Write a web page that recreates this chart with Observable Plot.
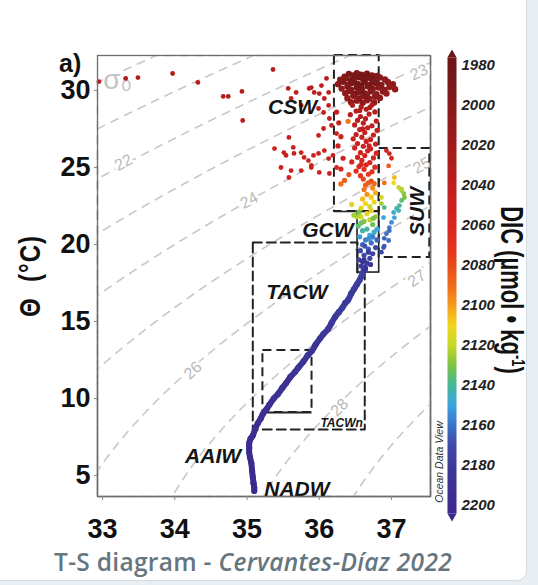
<!DOCTYPE html>
<html>
<head>
<meta charset="utf-8">
<script src="https://cdn.jsdelivr.net/npm/d3@7"></script>
<script src="https://cdn.jsdelivr.net/npm/@observablehq/plot@0.6"></script>
<style>
html,body{margin:0;padding:0;background:#e9eef2;}
#page{position:relative;width:538px;height:585px;overflow:hidden;background:#e9eef2;font-family:"Liberation Sans",Arial,sans-serif;}
#card{position:absolute;left:-12px;top:-12px;width:539px;height:593px;background:#fff;border:1.5px solid #d3dbe1;border-radius:10px;box-sizing:border-box;}
#main{position:absolute;left:0;top:0;}
#cbar{position:absolute;left:440px;top:0;}
.lbl{position:absolute;white-space:pre;color:#111;line-height:1;}
#ylab{left:30px;top:276px;font-size:24px;font-weight:bold;transform:translate(-50%,-50%) rotate(-90deg) scaleY(1.25);letter-spacing:1px;}
#panel{left:59px;top:51px;font-size:25px;font-weight:bold;}
#diclab{left:511px;top:290px;font-size:22px;font-weight:bold;transform:translate(-50%,-50%) rotate(90deg) scaleY(1.4);}
#diclab sup{font-size:13px;vertical-align:8px;line-height:0;}
#odv{left:439px;top:462px;font-size:10.5px;font-style:italic;color:#333;transform:translate(-50%,-50%) rotate(-90deg);}
#caption{left:0;width:506px;top:550px;text-align:center;font-family:"Open Sans",sans-serif;font-size:24.5px;font-weight:600;color:#65767f;letter-spacing:0.3px;}
</style>
</head>
<body>
<div id="page">
  <div id="card"></div>
  <div id="main"></div>
  <div id="cbar"></div>
  <div class="lbl" id="panel">a)</div>
  <div class="lbl" id="ylab">Θ  (°C)</div>
  <div class="lbl" id="diclab">DIC (µmol • kg<sup>-1</sup>)</div>
  <div class="lbl" id="odv">Ocean Data View</div>
  <div class="lbl" id="caption">T-S diagram - <i>Cervantes-Díaz 2022</i></div>
</div>
<script>
// ---------- axes / ticks ----------
const salDomain = [32.93, 37.54];
const tempDomain = [3.64, 32.27];
const salTicks = [33, 34, 35, 36, 37];
const tempTicks = [5, 10, 15, 20, 25, 30];
const dicTicks = [1980, 2000, 2020, 2040, 2060, 2080, 2100, 2120, 2140, 2160, 2180, 2200];

// ---------- colour map (ODV-like) ----------
const dicStops  = [1980, 2000, 2020, 2040, 2060, 2075, 2090, 2100, 2110, 2120, 2130, 2140, 2150, 2160, 2170, 2185, 2200];
const dicColors = ["#6e1616", "#861a1a", "#a11c1c", "#bc1f1e", "#d9241f", "#e43c1c", "#ef6c1a", "#f49d1c", "#f2d71c", "#c6d72b", "#7bc243", "#47b79a", "#3aa5df", "#3c72c6", "#3d49a6", "#3c3496", "#3b2a8c"];

// ---------- isopycnals (sigma-theta) ----------
const isopycnals = [20, 21, 22, 23, 24, 25, 26, 27, 28, 29];
const isoLabelText = ["σ₀", "22", "23", "24", "25", "26", "27", "28"];
const isoLabelS    = [33.21, 33.29, 37.38, 35.03, 37.42, 34.25, 37.35, 36.28];
const isoLabelT    = [30.65, 25.32, 31.17, 22.86, 25.13, 11.82, 17.79, 9.42];

// ---------- water-mass boxes [S1, S2, T1, T2] ----------
const cswBox   = [36.21, 36.83, 22.14, 32.27];
const gcwBox   = [36.53, 36.83, 18.18, 22.14];
const suwBox   = [36.83, 37.53, 19.16, 26.23];
const tacwBox  = [35.08, 36.63, 7.99, 20.13];
const innerBox = [35.22, 35.90, 9.09, 13.12];

// ---------- water-mass labels ----------
const massNames = ["CSW", "GCW", "TACW", "AAIW", "NADW"];
const massS     = [35.63, 36.12, 35.69, 34.53, 35.69];
const massT     = [28.9, 20.9, 16.88, 6.24, 4.09];

// ---------- observations [salinity, theta, DIC] ----------
const deepCurve = [
 [35.10,4.0,2198],[35.10,4.2,2198],[35.09,4.5,2197],[35.08,4.9,2197],[35.07,5.3,2196],[35.06,5.8,2196],
 [35.04,6.2,2195],[35.03,6.5,2195],[35.03,6.8,2194],[35.03,7.1,2194],[35.05,7.4,2193],[35.08,7.6,2193],
 [35.11,8.0,2192],[35.15,8.4,2192],[35.19,8.7,2191],[35.22,9.0,2191],[35.27,9.3,2190],[35.31,9.6,2190],
 [35.37,10.0,2189],[35.43,10.3,2189],[35.49,10.7,2188],[35.54,11.0,2188],[35.60,11.4,2187],[35.66,11.7,2187],
 [35.71,12.0,2186],[35.78,12.4,2186],[35.84,12.8,2185],[35.90,13.1,2185],[35.95,13.5,2184],[36.01,13.9,2184],
 [36.06,14.2,2183],[36.12,14.5,2183],[36.17,14.9,2182],[36.22,15.3,2182],[36.27,15.6,2181],[36.32,15.9,2181],
 [36.36,16.2,2180],[36.40,16.4,2180],[36.44,16.8,2179],[36.48,17.1,2179],[36.52,17.4,2178],[36.56,17.7,2178],
 [36.59,18.0,2177],[36.63,18.5,2176]
];
const gcwColumn = [
 [36.58,18.6,2178],[36.66,18.8,2180],[36.55,19.0,2175],[36.70,19.1,2176],[36.62,19.3,2172],[36.74,19.4,2174],
 [36.57,19.6,2170],[36.68,19.7,2166],[36.78,19.8,2170],[36.60,20.0,2163],[36.72,20.1,2160],[36.64,20.3,2157],
 [36.80,20.3,2164],[36.56,20.5,2152],[36.70,20.6,2150],[36.76,20.8,2146],[36.60,20.9,2143],[36.66,21.0,2140],
 [36.54,21.2,2136],[36.74,21.3,2132],[36.62,21.5,2128],[36.70,21.6,2122],[36.58,21.8,2118],[36.78,21.8,2126],
 [36.66,22.0,2114],[36.55,22.1,2130],[36.72,22.2,2108],[36.62,19.0,2185],[36.68,19.5,2180],[36.60,18.9,2190],
 [36.74,20.5,2158],[36.80,21.0,2150],[36.52,21.8,2122],[36.45,22.6,2115],[36.48,21.9,2125],
 [36.63,19.9,2168],[36.69,20.4,2155],[36.58,21.4,2132],[36.75,21.7,2130],[36.64,18.4,2186],[36.71,18.7,2183]
];
const cswColumn = [
 [36.46,29.04,2028],[36.58,28.93,2026],[36.73,29.07,2030],[36.51,28.66,2032],[36.65,28.78,2030],[36.77,28.61,2034],
 [36.43,28.43,2036],[36.57,28.31,2035],[36.69,28.47,2036],[36.53,28.06,2038],[36.64,28.17,2037],[36.79,28.01,2040],
 [36.49,27.76,2040],[36.61,27.88,2040],[36.73,27.71,2042],[36.56,27.46,2043],[36.67,27.58,2042],[36.80,27.41,2045],
 [36.51,27.14,2045],[36.63,27.27,2044],[36.75,27.11,2047],[36.47,26.86,2048],[36.59,26.97,2047],[36.71,26.81,2048],
 [36.53,26.55,2050],[36.65,26.69,2049],[36.78,26.52,2051],[36.49,26.27,2052],[36.61,26.38,2052],[36.71,26.21,2053],
 [36.57,25.96,2054],[36.67,26.08,2054],[36.79,25.93,2056],[36.53,25.66,2056],[36.63,25.77,2056],[36.75,25.62,2058],
 [36.45,25.36,2058],[36.59,25.47,2058],[36.70,25.32,2060],[36.55,25.06,2062],[36.65,25.17,2061],[36.77,25.02,2064],
 [36.51,24.77,2066],[36.62,24.88,2066],[36.73,24.72,2068],[36.41,24.54,2082],[36.57,24.47,2072],[36.68,24.56,2074],
 [36.35,24.16,2086],[36.61,24.25,2078],[36.72,24.12,2082],[36.30,23.93,2090],[36.64,23.86,2086],[36.76,23.95,2088],
 [36.62,23.57,2092],[36.74,23.66,2095],[36.66,23.26,2098],[36.78,23.36,2102],[36.60,22.96,2105],[36.72,23.07,2108],
 [36.64,22.66,2110],[36.76,22.76,2112],[36.58,22.36,2115],[36.70,22.46,2118],
 [36.24,28.6,2046],[36.27,27.9,2046],[36.30,27.0,2048],[36.26,26.4,2050],[36.33,25.6,2052],[36.30,24.9,2056],[36.40,28.0,2092],
 [36.70,28.9,2030],[36.60,27.5,2042],[36.69,26.4,2052],[36.58,25.2,2060],[36.68,24.0,2084],[36.56,28.7,2031]
];
const cswCore = [
 [36.41,31.08,1993],[36.47,30.98,1990],[36.52,31.12,1991],[36.58,31.03,1988],[36.66,31.09,1990],[36.73,30.97,1994],[36.35,30.90,1996],
 [36.29,30.70,2000],[36.37,30.79,1995],[36.44,30.66,1991],[36.55,30.86,1987],[36.61,30.69,1988],[36.69,30.83,1989],[36.77,30.66,1994],[36.84,30.84,1999],[36.91,30.71,2003],
 [36.26,30.41,2003],[36.33,30.56,1997],[36.40,30.38,1992],[36.48,30.60,1988],[36.53,30.43,1986],[36.63,30.57,1987],[36.70,30.37,1990],[36.78,30.49,1994],[36.86,30.35,2000],[36.95,30.55,2005],[37.02,30.40,2008],
 [36.31,30.12,2005],[36.39,30.28,1999],[36.44,30.05,1995],[36.52,30.20,1990],[36.59,30.08,1989],[36.67,30.27,1990],[36.74,30.10,1994],[36.82,30.19,1998],[36.90,30.04,2004],[36.97,30.22,2007],[37.05,30.08,2011],
 [36.36,29.82,2007],[36.41,29.96,2001],[36.49,29.77,1997],[36.57,29.95,1993],[36.63,29.80,1995],[36.71,29.94,1996],[36.79,29.76,2001],[36.88,29.93,2005],[36.93,29.80,2009],
 [36.39,29.50,2009],[36.47,29.66,2004],[36.55,29.48,2001],[36.61,29.64,1998],[36.69,29.46,2002],[36.77,29.60,2005],[36.84,29.51,2010],
 [36.44,29.24,2011],[36.52,29.34,2008],[36.60,29.20,2007],[36.66,29.36,2008],[36.76,29.22,2012],
 [36.49,30.92,1989],[36.62,30.95,1989],[36.80,30.95,1996],[36.58,30.32,1987],[36.45,30.48,1990],[36.74,30.62,1991],[36.66,29.64,1997],[36.54,29.90,1995]
];
const cswScatter = [
 [32.95,30.58,2030],[33.32,30.78,2030],[33.49,30.84,2030],[33.97,31.10,2032],[34.32,30.52,2035],[34.67,29.61,2035],
 [34.74,29.61,2035],[34.93,29.94,2036],[34.94,28.05,2038],[35.36,31.36,2036],
 [35.57,30.13,2040],[35.68,29.87,2040],[35.61,29.48,2042],[35.75,29.03,2042],[35.86,30.13,2040],[35.93,29.87,2040],
 [36.03,30.32,2038],[36.10,30.78,2036],[36.13,29.87,2038],[36.07,29.48,2040],[35.99,28.83,2042],[36.13,29.03,2042],
 [36.14,28.18,2044],[35.89,30.19,2040],[36.00,29.80,2040],[36.06,28.57,2044],[36.17,27.73,2045],[36.24,27.20,2046],
 [35.38,26.23,2048],[35.51,25.97,2048],[35.54,25.78,2048],[35.65,25.91,2048],[35.75,25.97,2048],[35.79,25.65,2050],
 [35.92,25.78,2050],[35.99,25.91,2050],[36.07,26.10,2050],[36.13,25.58,2050],[36.19,25.78,2050],[35.61,24.80,2052],
 [35.58,24.35,2052],[35.75,24.80,2052],[35.47,25.00,2050],[35.89,25.00,2052],[35.85,25.45,2050],[36.00,24.68,2052],
 [36.14,24.61,2052],[36.24,25.00,2052],[35.58,26.95,2046],[35.64,26.30,2048],[35.99,27.08,2046],[36.06,27.53,2045],[35.89,25.13,2050]
];
const suwPoints = [
 [36.93,26.10,2050],[36.97,25.90,2055],[37.00,25.60,2060],[36.96,25.10,2085],[37.04,24.35,2105],[37.03,24.00,2110],
 [37.10,23.70,2120],[37.14,23.50,2125],[37.17,23.30,2128],[37.18,23.05,2130],[37.14,22.86,2135],[37.11,22.53,2140],
 [37.07,22.34,2142],[37.03,22.08,2148],[37.04,21.75,2150],[37.00,21.43,2155],[36.97,21.10,2158],[36.93,20.70,2160],
 [36.96,20.26,2162],[36.90,19.90,2165],[36.86,22.66,2125],[36.90,22.40,2138],[36.89,21.75,2150],[36.90,24.00,2090],
 [36.86,23.05,2118],[37.14,23.60,2122],[37.10,22.20,2144],[36.97,20.90,2160],[36.90,20.40,2163],[36.89,19.80,2166],[36.86,19.50,2170]
];

// UNESCO EOS-80 potential density anomaly at p = 0
function sigma0(S, T) {
  const rw = 999.842594 + 6.793952e-2*T - 9.095290e-3*T*T + 1.001685e-4*T**3 - 1.120083e-6*T**4 + 6.536332e-9*T**5;
  const A = 8.24493e-1 - 4.0899e-3*T + 7.6438e-5*T*T - 8.2467e-7*T**3 + 5.3875e-9*T**4;
  const B = -5.72466e-3 + 1.0227e-4*T - 1.6546e-6*T*T;
  const C = 4.8314e-4;
  return rw + A*S + B*Math.pow(S, 1.5) + C*S*S - 1000;
}

const labelAngle = {"σ₀": 0, "22": -27, "23": -24, "24": -28, "25": -28, "26": -42, "27": -34, "28": -44};
const isoLabels = isoLabelText.map((t, i) => ({t, S: isoLabelS[i], T: isoLabelT[i]}));
const massLabels = massNames.map((n, i) => ({n, S: massS[i], T: massT[i]}));
const rectOf = b => ({x1: b[0], x2: b[1], y1: b[2], y2: b[3]});
const tacwOutline = [
  [tacwBox[0], tacwBox[3]], [gcwBox[0], tacwBox[3]], [gcwBox[0], gcwBox[2]], [tacwBox[1], gcwBox[2]],
  [tacwBox[1], tacwBox[2]], [tacwBox[0], tacwBox[2]], [tacwBox[0], tacwBox[3]]
];
const colorOpts = {type: "linear", domain: dicStops, range: dicColors, clamp: true};
const px = d => d[0], py = d => d[1], pc = d => d[2];
const font = "Liberation Sans, Arial, sans-serif";

const chart = Plot.plot({
  width: 538, height: 545,
  marginLeft: 97, marginRight: 108, marginTop: 55, marginBottom: 49,
  style: {background: "transparent", fontFamily: font, color: "#111", overflow: "visible"},
  x: {domain: salDomain},
  y: {domain: tempDomain},
  color: colorOpts,
  marks: [
    Plot.contour({x1: salDomain[0], x2: salDomain[1], y1: tempDomain[0], y2: tempDomain[1],
      value: sigma0, thresholds: isopycnals, stroke: "#c8c8c8", strokeWidth: 1.6, strokeDasharray: "9,6", pixelSize: 1}),
    Plot.text(isoLabels.filter(d => d.t !== "σ₀"), {x: "S", y: "T", text: "t", rotate: d => labelAngle[d.t],
      fontSize: 16, fill: "#b9b9b9", stroke: "white", strokeWidth: 5}),
    Plot.text(isoLabels.filter(d => d.t === "σ₀"), {x: "S", y: "T", text: "t",
      fontSize: 28, fill: "#c4c4c4", stroke: "white", strokeWidth: 3}),
    // boxes
    Plot.rect([rectOf(cswBox)], {x1: "x1", x2: "x2", y1: "y1", y2: "y2", fill: "none", stroke: "#222", strokeWidth: 2, strokeDasharray: "9,5"}),
    Plot.rect([rectOf(suwBox)], {x1: "x1", x2: "x2", y1: "y1", y2: "y2", fill: "none", stroke: "#222", strokeWidth: 2, strokeDasharray: "9,5"}),
    Plot.line(tacwOutline, {x: px, y: py, stroke: "#222", strokeWidth: 2, strokeDasharray: "9,5"}),
    Plot.rect([rectOf(innerBox)], {x1: "x1", x2: "x2", y1: "y1", y2: "y2", fill: "none", stroke: "#222", strokeWidth: 2, strokeDasharray: "9,5"}),
    Plot.ruleY([innerBox[2]], {x1: innerBox[0], x2: innerBox[1], stroke: "#222", strokeWidth: 2}),
    Plot.ruleY([cswBox[2]], {x1: cswBox[0], x2: cswBox[1], stroke: "#222", strokeWidth: 1.6}),
    Plot.rect([rectOf(gcwBox)], {x1: "x1", x2: "x2", y1: "y1", y2: "y2", fill: "none", stroke: "#222", strokeWidth: 1.6}),
    // observations
    Plot.line(deepCurve, {x: px, y: py, stroke: pc, z: null, strokeWidth: 6, curve: "catmull-rom"}),
    Plot.dot(deepCurve, {x: px, y: py, fill: pc, r: 3}),
    Plot.dot(cswScatter, {x: px, y: py, fill: pc, r: 2.4}),
    Plot.dot(cswCore, {x: px, y: py, fill: pc, r: 3.2}),
    Plot.dot(cswColumn, {x: px, y: py, fill: pc, r: 2.6}),
    Plot.dot(gcwColumn, {x: px, y: py, fill: pc, r: 2.6}),
    Plot.dot(suwPoints, {x: px, y: py, fill: pc, r: 2.4}),
    // labels
    Plot.text(massLabels, {x: "S", y: "T", text: "n", fontSize: 21, fontWeight: "bold", fontStyle: "italic", fill: "#151515"}),
    Plot.text(["SUW"], {x: 37.35, y: 22.14, text: d => d, rotate: -90, fontSize: 21, fontWeight: "bold", fontStyle: "italic", fill: "#151515"}),
    Plot.text(["TACWn"], {x: 36.31, y: 8.38, text: d => d, fontSize: 12, fontWeight: "bold", fontStyle: "italic", fill: "#151515"}),
    Plot.frame({stroke: "#6d6d6d", strokeWidth: 1.3}),
    Plot.axisX({ticks: salTicks, tickFormat: d => String(d), tickSize: 4, tickPadding: 18, fontSize: 27, fontWeight: "bold",
      stroke: "#888", fill: "#111", label: null}),
    Plot.axisY({ticks: tempTicks, tickFormat: d => String(d), tickSize: 3, tickPadding: 4, fontSize: 27, fontWeight: "bold",
      stroke: "#888", fill: "#111", label: null})
  ]
});
document.getElementById("main").appendChild(chart);

const cbar = Plot.plot({
  width: 90, height: 585,
  marginLeft: 7, marginRight: 74, marginTop: 65, marginBottom: 80,
  style: {background: "transparent", fontFamily: font, color: "#222", overflow: "visible"},
  x: {domain: [0, 1], axis: null},
  y: {domain: [dicTicks[0], dicTicks[dicTicks.length - 1]], reverse: true, axis: null},
  color: colorOpts,
  marks: [
    Plot.raster({x1: 0, x2: 1, y1: 1976, y2: 2204, fill: (x, y) => y, pixelSize: 1}),
    Plot.dot([1974.7], {x: 0.5, y: d => d, symbol: "triangle", r: 3.4, fill: d => d}),
    Plot.dot([2205.3], {x: 0.5, y: d => d, symbol: "triangle", r: 3.4, rotate: 180, fill: d => d}),
    Plot.axisY({anchor: "right", ticks: dicTicks, tickFormat: d => String(d), tickSize: 0, tickPadding: 5,
      fontSize: 15, fontWeight: "bold", fontStyle: "italic", fill: "#222", label: null})
  ]
});
document.getElementById("cbar").appendChild(cbar);
</script>
</body>
</html>
